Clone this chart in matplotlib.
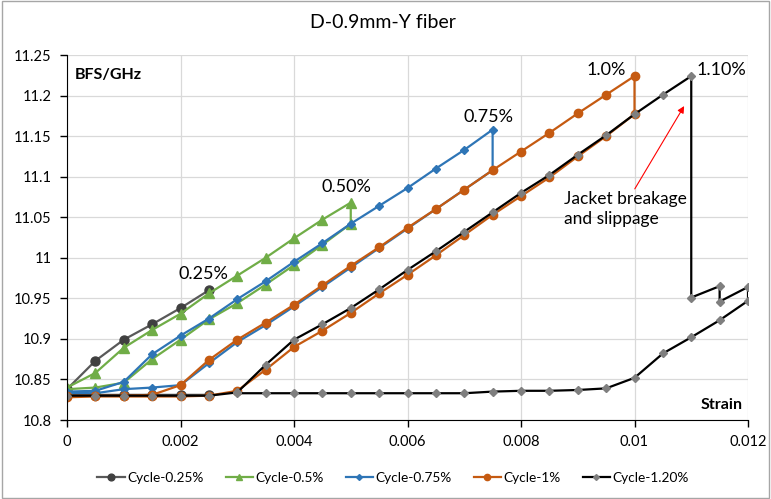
import numpy as np
import matplotlib
matplotlib.use('Agg')
import matplotlib.pyplot as plt
from matplotlib.ticker import FuncFormatter, MultipleLocator
from matplotlib.patches import Rectangle

plt.rcParams['font.family'] = ['Lato', 'DejaVu Sans']

# strain values of each cycle (loading then unloading), BFS in GHz
x_025 = [0, 0.0005, 0.001, 0.0015, 0.002, 0.0025,
         np.nan,
         0.0025, 0.002, 0.0015, 0.001, 0.0005, 0]
y_025 = [10.838, 10.873, 10.899, 10.918, 10.938, 10.960,
         np.nan,
         10.831, 10.831, 10.831, 10.831, 10.831, 10.832]

x_05 = [0, 0.0005, 0.001, 0.0015, 0.002, 0.0025, 0.003, 0.0035, 0.004, 0.0045, 0.005,
        0.005, 0.0045, 0.004, 0.0035, 0.003, 0.0025, 0.002, 0.0015, 0.001, 0.0005, 0]
y_05 = [10.840, 10.858, 10.889, 10.911, 10.931, 10.956, 10.978, 11.000, 11.024, 11.047, 11.068,
        11.042, 11.016, 10.991, 10.967, 10.944, 10.924, 10.899, 10.875, 10.846, 10.840, 10.838]

x_075 = [0, 0.0005, 0.001, 0.0015, 0.002, 0.0025, 0.003, 0.0035, 0.004, 0.0045, 0.005,
         0.0055, 0.006, 0.0065, 0.007, 0.0075,
         0.0075, 0.007, 0.0065, 0.006, 0.0055, 0.005, 0.0045, 0.004, 0.0035, 0.003,
         0.0025, 0.002, 0.0015, 0.001, 0.0005, 0]
y_075 = [10.835, 10.836, 10.847, 10.881, 10.904, 10.925, 10.949, 10.971, 10.995, 11.018, 11.042,
         11.064, 11.086, 11.110, 11.133, 11.158,
         11.108, 11.084, 11.060, 11.036, 11.012, 10.988, 10.964, 10.940, 10.917, 10.896,
         10.870, 10.843, 10.840, 10.838, 10.833, 10.833]

x_1 = [0, 0.0005, 0.001, 0.0015, 0.002, 0.0025, 0.003, 0.0035, 0.004, 0.0045, 0.005,
       0.0055, 0.006, 0.0065, 0.007, 0.0075, 0.008, 0.0085, 0.009, 0.0095, 0.01,
       0.01, 0.0095, 0.009, 0.0085, 0.008, 0.0075, 0.007, 0.0065, 0.006, 0.0055, 0.005,
       0.0045, 0.004, 0.0035, 0.003, 0.0025, 0.002, 0.0015, 0.001, 0.0005, 0]
y_1 = [10.830, 10.830, 10.830, 10.831, 10.843, 10.874, 10.899, 10.920, 10.942, 10.966, 10.990,
       11.013, 11.037, 11.060, 11.084, 11.108, 11.131, 11.154, 11.178, 11.201, 11.224,
       11.177, 11.150, 11.125, 11.099, 11.076, 11.053, 11.028, 11.003, 10.979, 10.956, 10.932,
       10.910, 10.890, 10.862, 10.836, 10.830, 10.829, 10.829, 10.829, 10.829, 10.828]

x_12 = [0, 0.0005, 0.001, 0.0015, 0.002, 0.0025, 0.003, 0.0035, 0.004, 0.0045, 0.005,
        0.0055, 0.006, 0.0065, 0.007, 0.0075, 0.008, 0.0085, 0.009, 0.0095, 0.01,
        0.0105, 0.011, 0.011, 0.0115, 0.0115, 0.012, 0.012,
        0.0115, 0.011, 0.0105, 0.01, 0.0095, 0.009, 0.0085, 0.008, 0.0075, 0.007,
        0.0065, 0.006, 0.0055, 0.005, 0.0045, 0.004, 0.0035, 0.003]
y_12 = [10.830, 10.830, 10.830, 10.830, 10.830, 10.830, 10.834, 10.868, 10.899, 10.918, 10.938,
        10.961, 10.985, 11.008, 11.032, 11.056, 11.080, 11.102, 11.127, 11.151, 11.177,
        11.201, 11.224, 10.951, 10.965, 10.946, 10.964, 10.947,
        10.923, 10.902, 10.882, 10.852, 10.839, 10.837, 10.836, 10.836, 10.835, 10.833,
        10.833, 10.833, 10.833, 10.833, 10.833, 10.833, 10.833, 10.833]

labels = ['Cycle-0.25%', 'Cycle-0.5%', 'Cycle-0.75%', 'Cycle-1%', 'Cycle-1.20%']

fig = plt.figure(figsize=(7.71, 4.99), dpi=100)
ax = fig.add_axes([67 / 771, 1 - 420 / 499, 681 / 771, 365 / 499])

ax.plot(x_025, y_025, color='#595959', lw=1.6, marker='o', ms=6.5,
        mfc='#404040', mec='#404040', label=labels[0])
ax.plot(x_05, y_05, color='#70AD47', lw=1.6, marker='^', ms=6.5,
        mfc='#70AD47', mec='#70AD47', label=labels[1])
ax.plot(x_075, y_075, color='#2E75B6', lw=1.6, marker='D', ms=4,
        mfc='#2E75B6', mec='#2E75B6', label=labels[2])
ax.plot(x_1, y_1, color='#C55A11', lw=1.6, marker='o', ms=6,
        mfc='#C55A11', mec='#C55A11', label=labels[3])
ax.plot(x_12, y_12, color='black', lw=1.6, marker='D', ms=4,
        mfc='#7F7F7F', mec='#7F7F7F', label=labels[4])

ax.set_xlim(0, 0.012)
ax.set_ylim(10.8, 11.25)
ax.xaxis.set_major_locator(MultipleLocator(0.002))
ax.yaxis.set_major_locator(MultipleLocator(0.05))
ax.xaxis.set_major_formatter(FuncFormatter(lambda v, p: '%g' % round(v, 4)))
ax.yaxis.set_major_formatter(FuncFormatter(lambda v, p: '%g' % round(v, 3)))
ax.grid(True, color='#D9D9D9', lw=0.9)
ax.set_axisbelow(True)
for s in ['top', 'right']:
    ax.spines[s].set_visible(False)
ax.spines['left'].set_color('black')
ax.spines['bottom'].set_color('black')
ax.tick_params(labelsize=10.5, direction='out', length=5, width=1, pad=6)

ax.text(0.00241, 10.98, '0.25%', fontsize=13, ha='center', va='center')
ax.text(0.00492, 11.087, '0.50%', fontsize=13, ha='center', va='center')
ax.text(0.00742, 11.173, '0.75%', fontsize=13, ha='center', va='center')
ax.text(0.0095, 11.232, '1.0%', fontsize=13, ha='center', va='center')
ax.text(0.0111, 11.232, '1.10%', fontsize=13, ha='left', va='center')
ax.text(0.00875, 11.06, 'Jacket breakage\nand slippage', fontsize=12.5, ha='left', va='center',
        linespacing=1.3)
ax.annotate('', xy=(0.0109, 11.19), xytext=(0.00998, 11.082),
            arrowprops=dict(arrowstyle='-|>', color='red', lw=0.8, mutation_scale=10))
ax.text(0.992, 0.04, 'Strain', transform=ax.transAxes, fontsize=11.5, fontweight='bold',
        ha='right', va='center')
ax.text(0.012, 0.945, 'BFS/GHz', transform=ax.transAxes, fontsize=11.5, fontweight='bold',
        ha='left', va='center')

fig.text(0.497, 0.955, 'D-0.9mm-Y fiber', fontsize=14, ha='center', va='center')
fig.legend(loc='center', bbox_to_anchor=(0.51, 1 - 478 / 499), ncol=5, frameon=False,
           fontsize=9.8, handlelength=2.0, columnspacing=1.6, handletextpad=0.2,
           markerscale=0.75)

fig.patches.append(Rectangle((0.002, 0.003), 0.996, 0.994, transform=fig.transFigure,
                             fill=False, edgecolor='#A6A6A6', lw=1))

fig.savefig('out.png', dpi=100)
